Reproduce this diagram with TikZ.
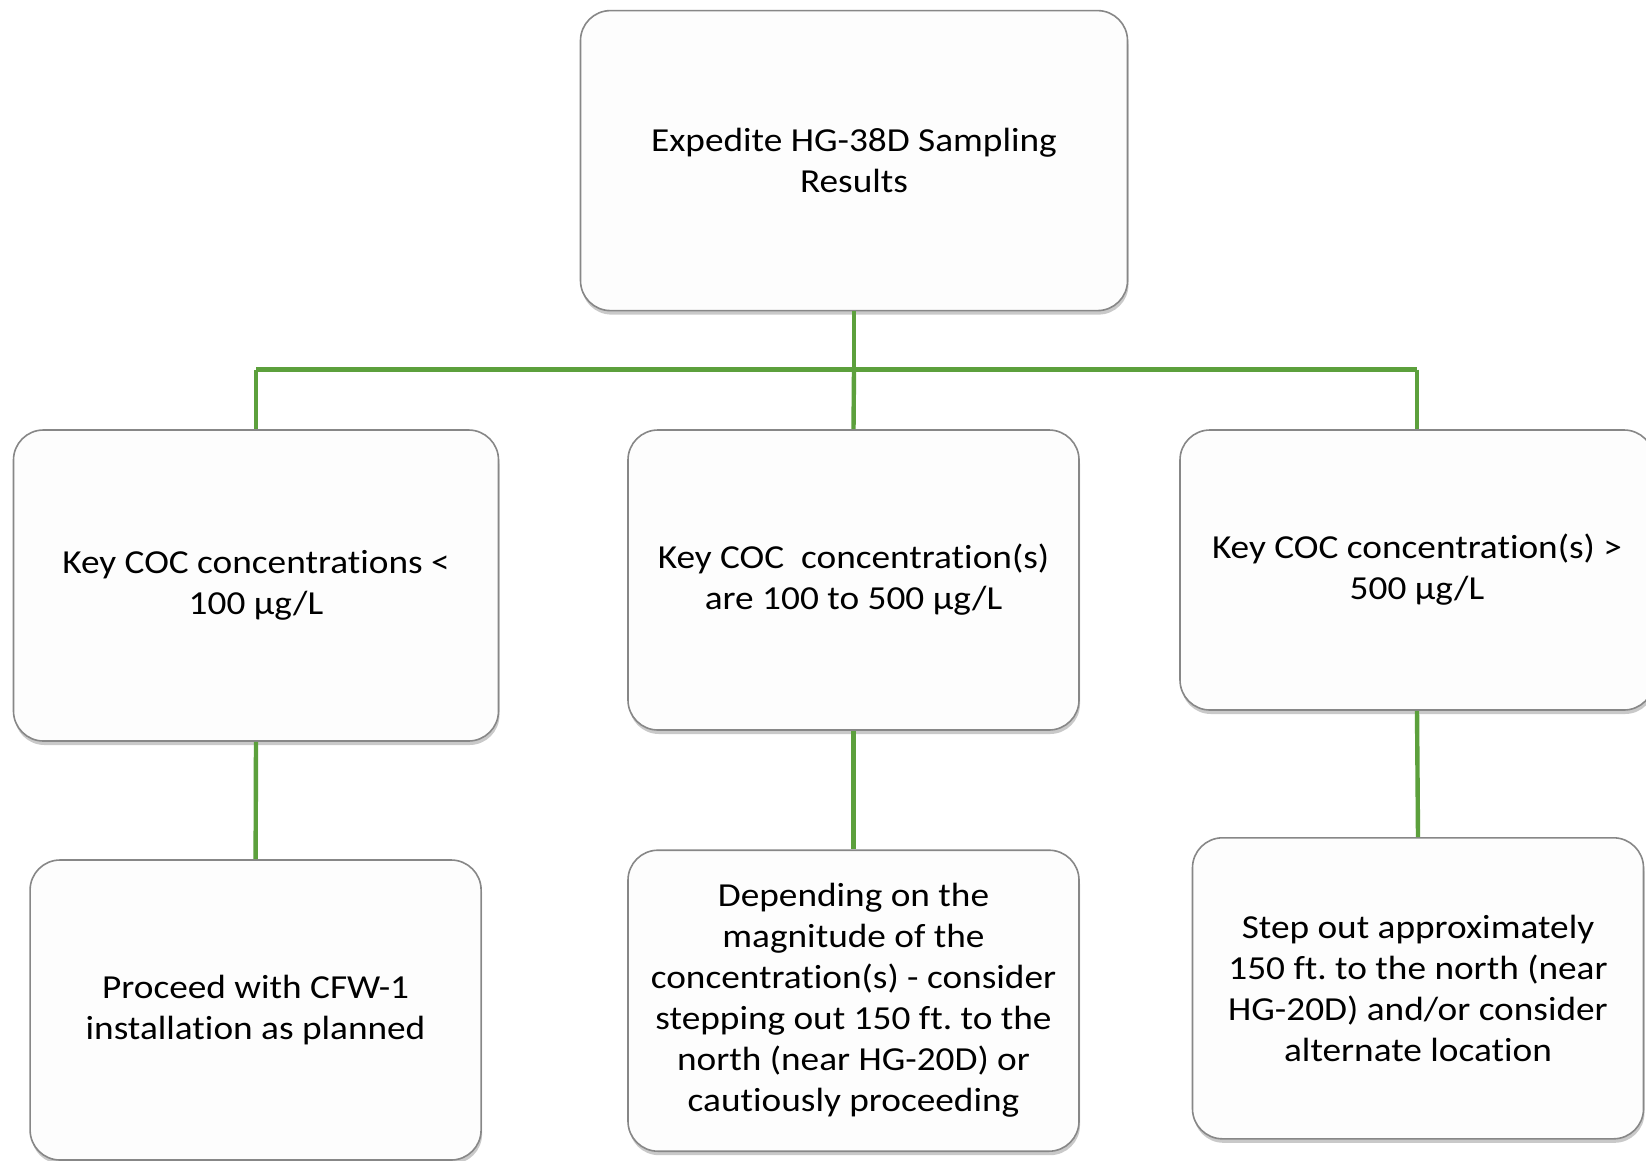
\documentclass[tikz,border=0pt]{standalone}
\usepackage{fontspec}
\setmainfont{Carlito}[FakeStretch=1.11, RawFeature={-liga}]
\usetikzlibrary{shadows}
\definecolor{boxline}{RGB}{135,135,135}
\definecolor{boxfill}{RGB}{253,253,253}
\definecolor{linkgreen}{RGB}{92,160,60}
\tikzset{
  flowbox/.style={draw=boxline, line width=1.6pt, fill=boxfill, rounded corners=30pt,
    align=center, inner sep=0pt,
    font=\fontsize{33.6}{41}\selectfont\frenchspacing,
    drop shadow={shadow xshift=1pt, shadow yshift=-4pt, opacity=0.35, fill=black!60}},
  link/.style={draw=linkgreen, line width=4.4pt}
}
\begin{document}
\begin{tikzpicture}[x=1pt,y=-1pt]
\useasboundingbox (0,0) rectangle (1646,1160);
\clip (0,0) rectangle (1646,1160);
\fill[white] (0,0) rectangle (1646,1160);

\node[flowbox, minimum width=547pt, minimum height=300pt] (top) at (854,160.6)
  {Expedite HG-38D Sampling\\Results};

\node[flowbox, minimum width=485pt, minimum height=311pt] (l1) at (256,585.5)
  {Key COC concentrations <\\100 µg/L};
\node[flowbox, minimum width=451pt, minimum height=300pt] (m1) at (853.5,580)
  {Key COC\ \ concentration(s)\\are 100 to 500 µg/L};
\node[flowbox, minimum width=474pt, minimum height=280pt] (r1) at (1417,570)
  {Key COC concentration(s) >\\500 µg/L};

\node[flowbox, minimum width=451pt, minimum height=300pt] (l2) at (255.6,1010)
  {Proceed with CFW-1\\installation as planned};
\node[flowbox, minimum width=451pt, minimum height=301pt] (m2) at (853.5,1000.7)
  {Depending on the\\magnitude of the\\concentration(s) - consider\\stepping out 150 ft. to the\\north (near HG-20D) or\\cautiously proceeding};
\node[flowbox, minimum width=451pt, minimum height=301pt] (r2) at (1418,988.3)
  {Step out approximately\\150 ft. to the north (near\\HG-20D) and/or consider\\alternate location};

\coordinate (bus) at (854,369.5);
\draw[link] (top.south) -- (bus);
\draw[link] (l1.north |- bus) -- (r1.north |- bus);
\draw[link] (l1.north |- bus) -- (l1.north);
\draw[link] (bus) -- (m1.north);
\draw[link] (r1.north |- bus) -- (r1.north);

\draw[link] (l1.south) -- (l2.north);
\draw[link] (m1.south) -- (m2.north);
\draw[link] (r1.south) -- (r2.north);
\end{tikzpicture}
\end{document}
